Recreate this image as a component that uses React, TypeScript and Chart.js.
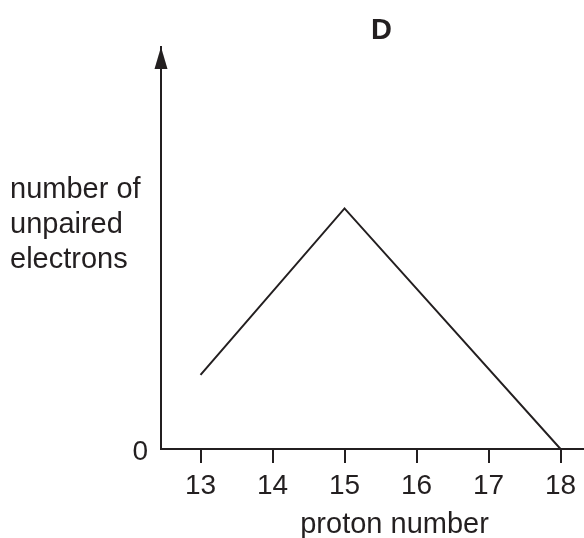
import React, { useEffect, useRef } from "react";
import { Chart, registerables } from "chart.js";

Chart.register(...registerables);

// ---- data ----
const protonNumbers = [13, 15, 18];
const unpairedElectrons = [1, 3.25, 0];
const xTickValues = [13, 14, 15, 16, 17, 18];
const yTickValues = [0];
const chartTitle = "D";
const xAxisTitle = "proton number";
const yAxisTitleLines = ["number of", "unpaired", "electrons"];

// ---- style ----
const INK = "#231f20";
const FONT = "'Liberation Sans', Arial, Helvetica, sans-serif";
const FONT_SIZE = 28;
const TITLE_SIZE = 29;

const decorPlugin = {
  id: "decor",
  afterDraw(chart: any) {
    const { ctx, chartArea, scales } = chart;
    const xs = scales.x;
    ctx.save();
    // arrow head on the y axis
    const ax = chartArea.left;
    const top = chartArea.top;
    ctx.fillStyle = INK;
    ctx.beginPath();
    ctx.moveTo(ax, top);
    ctx.lineTo(ax - 6.5, top + 22);
    ctx.lineTo(ax + 6.5, top + 22);
    ctx.closePath();
    ctx.fill();

    const midX = xs.getPixelForValue((xTickValues[0] + xTickValues[xTickValues.length - 1]) / 2);

    // title
    ctx.font = `bold ${TITLE_SIZE}px ${FONT}`;
    ctx.textAlign = "center";
    ctx.textBaseline = "alphabetic";
    ctx.fillText(chartTitle, midX + 1, top - 8);

    // x axis title
    ctx.font = `${TITLE_SIZE}px ${FONT}`;
    ctx.fillText(xAxisTitle, midX + 14, chartArea.bottom + 84);

    // y axis title (horizontal, left)
    ctx.textAlign = "left";
    yAxisTitleLines.forEach((line, i) => {
      ctx.fillText(line, 10, 198 + i * 35);
    });
    ctx.restore();
  },
};

export default function App() {
  const canvasRef = useRef<HTMLCanvasElement | null>(null);

  useEffect(() => {
    if (!canvasRef.current) return;
    const chart = new Chart(canvasRef.current, {
      type: "line",
      data: {
        datasets: [
          {
            data: protonNumbers.map((p, i) => ({ x: p, y: unpairedElectrons[i] })),
            borderColor: INK,
            borderWidth: 2,
            pointRadius: 0,
            tension: 0,
            fill: false,
          },
        ],
      },
      options: {
        animation: false,
        responsive: true,
        maintainAspectRatio: false,
        layout: { padding: { top: 47, left: 0, right: 0, bottom: 0 } },
        plugins: {
          legend: { display: false },
          tooltip: { enabled: false },
          title: { display: false },
        },
        scales: {
          x: {
            type: "linear",
            min: 12.451,
            max: 18.326,
            afterBuildTicks: (axis: any) => {
              axis.ticks = xTickValues.map((v) => ({ value: v }));
            },
            afterFit: (axis: any) => {
              axis.height = 89;
            },
            grid: {
              display: true,
              drawOnChartArea: false,
              drawTicks: true,
              tickLength: 14,
              color: INK,
              lineWidth: 2,
            },
            border: { display: true, color: INK, width: 2 },
            ticks: {
              color: INK,
              font: { family: FONT, size: FONT_SIZE },
              padding: 6,
              maxRotation: 0,
              autoSkip: false,
              callback: (v: any) => String(v),
            },
          },
          y: {
            type: "linear",
            min: 0,
            max: 5.43,
            afterBuildTicks: (axis: any) => {
              axis.ticks = yTickValues.map((v) => ({ value: v }));
            },
            afterFit: (axis: any) => {
              axis.width = 161;
            },
            grid: {
              display: true,
              drawOnChartArea: false,
              drawTicks: false,
            },
            border: { display: true, color: INK, width: 2 },
            ticks: {
              color: INK,
              font: { family: FONT, size: FONT_SIZE },
              padding: 13,
              labelOffset: 3,
              autoSkip: false,
              callback: (v: any) => String(v),
            },
          },
        },
      },
      plugins: [decorPlugin],
    } as any);
    return () => chart.destroy();
  }, []);

  return (
    <div style={{ position: "fixed", left: 0, top: 0, width: 584, height: 538, background: "#fff" }}>
      <canvas ref={canvasRef} style={{ display: "block" }} />
    </div>
  );
}
